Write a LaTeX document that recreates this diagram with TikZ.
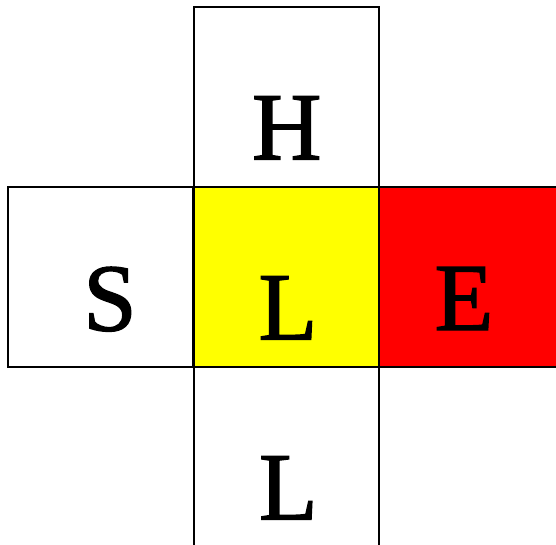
\documentclass[tikz,border=0pt]{standalone}
\usepackage{fontspec}
\newfontfamily\cellfont[FakeBold=1.5]{Liberation Serif}
\usepackage{tikz}
\definecolor{cellyellow}{RGB}{255,255,0}
\definecolor{cellred}{RGB}{255,0,0}
\usetikzlibrary{positioning}

\begin{document}
\begin{tikzpicture}[x=1pt, y=-1pt,
        cell/.style={draw, line width=2pt, minimum width=185pt,
                     minimum height=180pt, inner sep=0pt},
        letter/.style={anchor=base, inner sep=0pt,
                       font=\cellfont\fontsize{96}{96}\selectfont}
      ]
        \useasboundingbox (0,0) rectangle (556,544);
        \clip (0,0) rectangle (556,544);
        % cross of cells
        \node[cell] (top) at (286.2, 96.7) {};
        \node[cell] (left) at (100.8, 276.7) {};
        \node[cell, fill=cellyellow] (mid) at (286.2, 276.7) {};
        \node[cell, fill=cellred] (right) at (471.2, 276.7) {};
        \node[cell] (bottom) at (286.2, 456.7) {};
        % letters
        \node[letter] (h) at (286.7, 159.3) {H};
        \node[letter] (s) at (110, 330.5) {S};
        \node[letter] (l1) at (288, 339.3) {L};
        \node[letter] (e) at (464, 330) {E};
        \node[letter] (l2) at (288.3, 519.3) {L};
      \end{tikzpicture}
\end{document}
